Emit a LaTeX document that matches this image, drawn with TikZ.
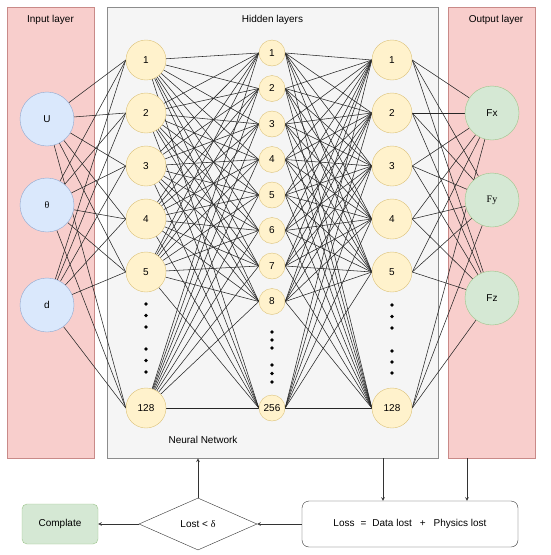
\documentclass[tikz,border=0pt]{standalone}
\usepackage{fontspec}
\setmainfont{Liberation Sans}
\newfontfamily\serifgreek{Liberation Serif}
\usepackage{xcolor}
\usepackage{tikz}
\usetikzlibrary{shapes.geometric, arrows, positioning, calc}

\definecolor{redfill}{HTML}{F8CECC}
\definecolor{redline}{HTML}{C98A88}
\definecolor{grayfill}{HTML}{F5F5F5}
\definecolor{grayline}{HTML}{8C8C8C}
\definecolor{bluefill}{HTML}{DAE8FC}
\definecolor{blueline}{HTML}{8EA8D0}
\definecolor{yelfill}{HTML}{FFF2CC}
\definecolor{yelline}{HTML}{DCC27A}
\definecolor{grnfill}{HTML}{D5E8D4}
\definecolor{grnline}{HTML}{9CC48A}

\pgfdeclarelayer{back}
\pgfdeclarelayer{wires}
\pgfsetlayers{back,wires,main}

\begin{document}
\begin{tikzpicture}[
    x=1pt, y=-1pt,
    font=\fontsize{10}{12}\selectfont,
    sidebox/.style={draw=redline, fill=redfill, line width=0.8pt, minimum width=87pt, minimum height=451pt, inner sep=0pt},
    hidbox/.style={draw=grayline, fill=grayfill, line width=0.8pt, minimum width=331pt, minimum height=451pt, inner sep=0pt},
    innode/.style={circle, draw=blueline, fill=bluefill, minimum size=54pt, inner sep=0pt},
    bignode/.style={circle, draw=yelline, fill=yelfill, minimum size=40pt, inner sep=0pt},
    smallnode/.style={circle, draw=yelline, fill=yelfill, minimum size=26pt, inner sep=0pt},
    outnode/.style={circle, draw=grnline, fill=grnfill, minimum size=54pt, inner sep=0pt},
    dot/.style={circle, fill=black, inner sep=0pt, minimum size=3.6pt},
    wire/.style={line width=0.55pt, black!85},
    flow/.style={line width=0.6pt, black!80, ->, >=stealth}
]

\useasboundingbox (0,0) rectangle (550,555);

% Layer boxes
\begin{pgfonlayer}{back}
\node[sidebox] (inlayer) at (50.5,232.5) {};
\node[hidbox] (hidlayer) at (272.5,232.5) {};
\node[sidebox] (outlayer) at (491.5,232.5) {};
\end{pgfonlayer}

% Titles
\node (intitle) at (50.5,20) {Input layer};
\node (hidtitle) at (272.5,20) {Hidden layers};
\node (outtitle) at (496,20) {Output layer};
\node (nntitle) at (203,440) {Neural Network};

% Input nodes
\node[innode] (in1) at (47,119) {U};
\node[innode] (in2) at (47,205) {\serifgreek θ};
\node[innode] (in3) at (47,305) {d};

% Hidden layer 1
\foreach \n/\y in {1/60, 2/113, 3/166, 4/219, 5/272}
    \node[bignode] (h1-\n) at (146,\y) {\n};
\node[bignode] (h1-6) at (146,408) {128};

% Hidden layer 2
\foreach \n in {1,...,8}
    \node[smallnode] (h2-\n) at (272,{53+35.5*(\n-1)}) {\n};
\node[smallnode] (h2-9) at (272,408) {256};

% Hidden layer 3
\foreach \n/\y in {1/60, 2/113, 3/166, 4/219, 5/272}
    \node[bignode] (h3-\n) at (392,\y) {\n};
\node[bignode] (h3-6) at (392,408) {128};

% Output nodes
\node[outnode] (out1) at (492,113) {Fx};
\node[outnode] (out2) at (492,200) {\serifgreek Fy};
\node[outnode] (out3) at (492,298) {Fz};

% Dots
\foreach \y in {304, 315.5, 327, 349, 360.5, 372}
    \node[dot] at (146,\y) {};
\foreach \y in {332, 340, 348, 365, 373.5, 382}
    \node[dot] at (272,\y) {};
\foreach \y in {305, 316.5, 328, 351, 362, 373}
    \node[dot] at (392,\y) {};

% Connections
\begin{pgfonlayer}{wires}
\foreach \i in {1,2,3}
    \foreach \j in {1,...,6}
        \draw[wire] (in\i) -- (h1-\j.west);
\foreach \i in {1,...,6}
    \foreach \j in {1,...,9}
        \draw[wire] (h1-\i) -- (h2-\j.west);
\foreach \i in {1,...,9}
    \foreach \j in {1,...,6}
        \draw[wire] (h2-\i.east) -- (h3-\j.west);
\foreach \i in {1,...,6}
    \foreach \j in {1,2,3}
        \draw[wire] (h3-\i.east) -- (out\j);
\end{pgfonlayer}

% Training loop
\node[draw=grnline, fill=grnfill, rounded corners=5pt, minimum width=76pt, minimum height=40pt] (done) at (60,524) {Complate};
\node[diamond, draw=black!80, fill=white, aspect=2.27, minimum width=118pt, minimum height=52pt, inner sep=0pt] (lostchk) at (198,524) {Lost < {\serifgreek δ}};
\node[draw=black!80, fill=white, rounded corners=7pt, minimum width=216pt, minimum height=46pt] (loss) at (410,524) {Loss\hspace{6pt}=\hspace{6pt}Data lost\hspace{8pt}+\hspace{8pt}Physics lost};

\coordinate (datain) at ($(loss.north)+(-27,0)$);
\coordinate (physin) at ($(loss.north)+(57,0)$);

\draw[flow] (hidlayer.south -| datain) -- (datain);
\draw[flow] (outlayer.south -| physin) -- (physin);
\draw[flow] (loss.west) -- (lostchk.east);
\draw[flow] (lostchk.west) -- (done.east);
\draw[flow] (lostchk.north) -- (lostchk.north |- hidlayer.south);

\end{tikzpicture}
\end{document}
